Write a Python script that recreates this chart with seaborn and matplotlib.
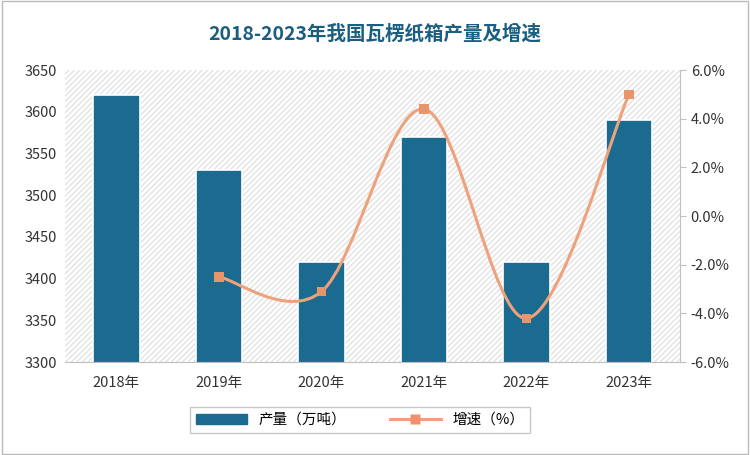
import numpy as np
import seaborn as sns
import matplotlib.pyplot as plt
from matplotlib import font_manager
from matplotlib.path import Path
from matplotlib.patches import PathPatch, Rectangle
from matplotlib.lines import Line2D

cjk = [f.name for f in font_manager.fontManager.ttflist if "CJK" in f.name]
cjk_font = "Noto Sans CJK SC" if "Noto Sans CJK SC" in cjk else (cjk[0] if cjk else "DejaVu Sans")
plt.rcParams["font.family"] = "sans-serif"
plt.rcParams["font.sans-serif"] = [cjk_font, "DejaVu Sans"]

# 数据
years = ["2018年", "2019年", "2020年", "2021年", "2022年", "2023年"]
output = [3620, 3530, 3420, 3570, 3420, 3590]
growth_years = ["2019年", "2020年", "2021年", "2022年", "2023年"]
growth = [-2.5, -3.1, 4.4, -4.2, 5.0]

bar_color = "#1b6a8f"
line_color = "#eda27c"

fig = plt.figure(figsize=(7.5, 4.55), dpi=100)
fig.patches.append(Rectangle((0.003, 0.003), 0.994, 0.994, transform=fig.transFigure,
                             fill=False, edgecolor="#bbbbbb", linewidth=1))
ax = fig.add_axes([0.087, 0.204, 0.82, 0.642])
ax.add_patch(Rectangle((0, 0), 1, 1, transform=ax.transAxes, facecolor="white",
                       hatch="//////", edgecolor="#e3e3e3", linewidth=0, zorder=0))

sns.barplot(x=years, y=output, color=bar_color, saturation=1, width=0.45, ax=ax,
            zorder=2, edgecolor="white", linewidth=1.2)
ax.set_ylim(3300, 3650)
ax.set_yticks(range(3300, 3651, 50))
ax.set_xlim(-0.5, 5.5)
for s in ["top", "right", "left"]:
    ax.spines[s].set_visible(False)
ax.spines["bottom"].set_color("#bfbfbf")
ax.tick_params(axis="both", length=0, labelsize=10.5, colors="#333333", pad=6)
ax.tick_params(axis="x", pad=10)

ax2 = ax.twinx()
xs = np.array([years.index(y) for y in growth_years], dtype=float)
ys = np.array(growth)
# smooth curve (Catmull-Rom -> bezier)
verts = [(xs[0], ys[0])]
codes = [Path.MOVETO]
n = len(xs)
for i in range(n - 1):
    p0 = np.array([xs[max(i - 1, 0)], ys[max(i - 1, 0)]])
    p1 = np.array([xs[i], ys[i]])
    p2 = np.array([xs[i + 1], ys[i + 1]])
    p3 = np.array([xs[min(i + 2, n - 1)], ys[min(i + 2, n - 1)]])
    c1 = p1 + (p2 - p0) / 6
    c2 = p2 - (p3 - p1) / 6
    verts += [tuple(c1), tuple(c2), tuple(p2)]
    codes += [Path.CURVE4] * 3
ax2.add_patch(PathPatch(Path(verts, codes), fill=False, edgecolor=line_color,
                        linewidth=2.2, zorder=3))
sns.scatterplot(x=xs, y=ys, marker="s", s=45, color="#e8956b", edgecolor="none",
                ax=ax2, zorder=4)
ax2.set_ylim(-6, 6)
ax2.set_yticks(np.arange(-6, 6.1, 2))
ax2.set_yticklabels([f"{v:.1f}%" for v in np.arange(-6, 6.1, 2)])
for s in ["top", "left", "bottom"]:
    ax2.spines[s].set_visible(False)
ax2.spines["right"].set_color("#bfbfbf")
ax2.tick_params(axis="y", length=4, color="#bfbfbf", labelsize=10.5, colors="#333333")
ax2.set_xlim(-0.5, 5.5)

fig.text(0.5, 0.925, "2018-2023年我国瓦楞纸箱产量及增速", ha="center", va="center",
         fontsize=14, fontweight="bold", color="#1b5f80")

handles = [Rectangle((0, 0), 1, 1, color=bar_color),
           Line2D([], [], color=line_color, lw=2.2, marker="s", markersize=7,
                  markerfacecolor="#e8956b", markeredgecolor="none")]
leg = fig.legend(handles, ["产量（万吨）", "增速（%）"], loc="center", ncol=2,
                 bbox_to_anchor=(0.48, 0.077), frameon=True, fontsize=10.5,
                 handlelength=3.5, columnspacing=3, fancybox=False, edgecolor="#bbbbbb")

fig.savefig("out.png", dpi=100)
